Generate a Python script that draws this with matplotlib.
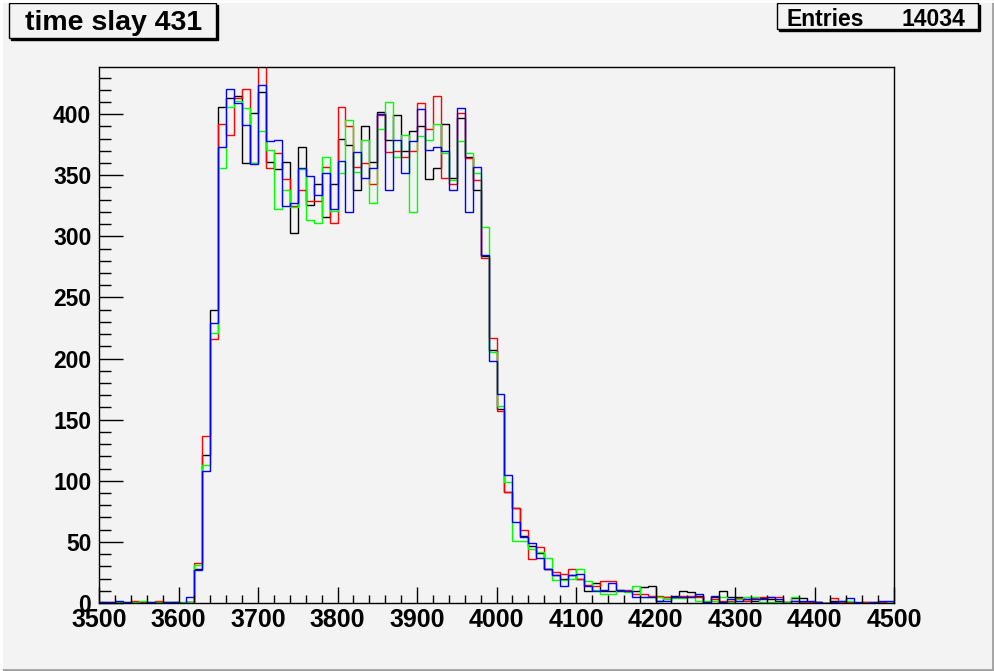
import numpy as np
import matplotlib.pyplot as plt
from matplotlib.ticker import MultipleLocator
from matplotlib.patches import Rectangle
from matplotlib.lines import Line2D

# histogram: 100 bins of 10 from 3500 to 4500
x_min, x_max, n_bins = 3500, 4500, 100

black = [1, 0, 1, 0, 0, 1, 0, 0, 0, 1, 0, 1,
         28, 121, 240, 406, 413, 415, 360, 401, 418, 361, 355, 361, 303, 373, 326, 343,
         316, 343, 380, 375, 338, 390, 361, 402, 379, 399, 370, 386, 390, 347, 356, 392,
         348, 397, 365, 338, 284, 207, 159, 91, 78, 55, 47, 41, 28, 23, 20, 23,
         20, 10, 16, 10, 10, 10, 10, 10, 13, 14, 2, 5, 6, 10, 9, 6, 1, 5, 10, 5,
         5, 3, 2, 4, 3, 2, 1, 4, 4, 1, 1, 0, 2, 1, 0, 0, 1, 0, 0, 0]
red = [0, 1, 0, 0, 2, 1, 0, 2, 1, 0, 0, 1,
       33, 137, 216, 392, 383, 413, 421, 360, 450, 356, 368, 347, 325, 338, 329, 329,
       357, 311, 406, 390, 357, 360, 343, 399, 369, 370, 365, 370, 409, 388, 415, 348,
       343, 401, 364, 346, 282, 217, 157, 91, 78, 60, 36, 46, 28, 25, 24, 28,
       20, 15, 14, 18, 18, 11, 11, 7, 7, 6, 6, 5, 5, 6, 6, 5, 1, 3, 2, 2,
       4, 2, 4, 5, 5, 5, 1, 2, 1, 1, 1, 0, 4, 1, 1, 0, 1, 1, 1, 0]
green = [0, 0, 1, 1, 1, 2, 1, 1, 1, 1, 1, 1,
         31, 113, 221, 356, 406, 411, 405, 360, 386, 371, 322, 338, 324, 355, 313, 311,
         365, 321, 352, 395, 353, 379, 327, 388, 410, 365, 383, 320, 382, 379, 392, 368,
         346, 378, 368, 352, 308, 205, 161, 99, 51, 51, 44, 42, 37, 19, 19, 20,
         28, 18, 11, 7, 7, 11, 9, 14, 5, 5, 5, 3, 4, 4, 5, 2, 2, 2, 5, 1,
         3, 5, 5, 1, 1, 1, 1, 5, 0, 0, 0, 0, 0, 2, 2, 0, 0, 0, 0, 0]
blue = [1, 1, 2, 1, 0, 0, 1, 0, 1, 1, 0, 5,
        27, 108, 229, 373, 421, 409, 391, 359, 424, 378, 379, 325, 327, 356, 349, 334,
        352, 322, 362, 320, 369, 348, 356, 400, 338, 379, 352, 378, 404, 371, 373, 370,
        338, 405, 320, 357, 285, 198, 171, 105, 66, 54, 49, 37, 28, 23, 14, 23,
        24, 14, 10, 11, 16, 11, 10, 5, 5, 5, 2, 2, 5, 5, 5, 7, 1, 6, 1, 3,
        2, 3, 3, 3, 5, 3, 0, 2, 2, 2, 1, 0, 1, 2, 4, 1, 0, 1, 2, 2]

series = [(black, 'black'), (red, '#ff0000'), (green, '#00ff00'), (blue, '#0000ff')]

title = 'time slay 431'
entries = 14034

bg = '#f3f3f3'
font = 'Liberation Sans'
W, H = 995, 671

fig = plt.figure(figsize=(W / 100, H / 100), dpi=100, facecolor=bg)
ax = fig.add_axes([99 / W, 1 - 603 / H, 795 / W, 536 / H], facecolor=bg)

edges = np.linspace(x_min, x_max, n_bins + 1)
for vals, col in series:
    ax.stairs(vals, edges, color=col, lw=1.0)

ax.set_xlim(x_min, x_max)
ax.set_ylim(0, 438.6)
for s in ax.spines.values():
    s.set_linewidth(1.0)
    s.set_color('black')

ax.xaxis.set_major_locator(MultipleLocator(100))
ax.xaxis.set_minor_locator(MultipleLocator(20))
ax.yaxis.set_major_locator(MultipleLocator(50))
ax.yaxis.set_minor_locator(MultipleLocator(10))
ax.tick_params(which='both', direction='in', top=False, right=False, width=1.0)
ax.tick_params(axis='x', which='major', length=11.5, pad=3.5)
ax.tick_params(axis='x', which='minor', length=5.8)
ax.tick_params(axis='y', which='major', length=17.3, pad=5.5)
ax.tick_params(axis='y', which='minor', length=8.6)
for lab in ax.get_xticklabels():
    lab.set_fontfamily(font)
    lab.set_fontweight('bold')
    lab.set_fontsize(18)
for lab in ax.get_yticklabels():
    lab.set_fontfamily(font)
    lab.set_fontweight('bold')
    lab.set_fontsize(16.5)


def box(x0, y0, x1, y1):
    # shadow then box, pixel coords from top-left
    fig.patches.append(Rectangle((x0 / W + 2 / W, 1 - y1 / H - 2 / H), (x1 - x0) / W, (y1 - y0) / H,
                                 transform=fig.transFigure, facecolor='black', edgecolor='black', lw=1))
    fig.patches.append(Rectangle((x0 / W, 1 - y1 / H), (x1 - x0) / W, (y1 - y0) / H,
                                 transform=fig.transFigure, facecolor=bg, edgecolor='black', lw=1))


box(9, 3, 216, 38)
fig.text(114 / W, 1 - 22.5 / H, title, ha='center', va='center', fontsize=20.5,
         fontweight='bold', family=font)

box(777, 3, 978, 29)
fig.text(787 / W, 1 - 19.5 / H, 'Entries', ha='left', va='center', fontsize=16.5,
         fontweight='bold', family=font)
fig.text(965 / W, 1 - 19.5 / H, str(entries), ha='right', va='center', fontsize=16.5,
         fontweight='bold', family=font)

# canvas bevel
fig.lines.append(Line2D([0, 1], [1 / H, 1 / H], transform=fig.transFigure, color='#a0a0a0', lw=2))
fig.lines.append(Line2D([1 - 2 / W, 1 - 2 / W], [0, 1], transform=fig.transFigure, color='#a0a0a0', lw=2))
fig.lines.append(Line2D([0, 1], [1 - 1 / H, 1 - 1 / H], transform=fig.transFigure, color='white', lw=2))
fig.lines.append(Line2D([1 / W, 1 / W], [0, 1], transform=fig.transFigure, color='white', lw=2))

fig.savefig('out.png', dpi=100, facecolor=bg)
